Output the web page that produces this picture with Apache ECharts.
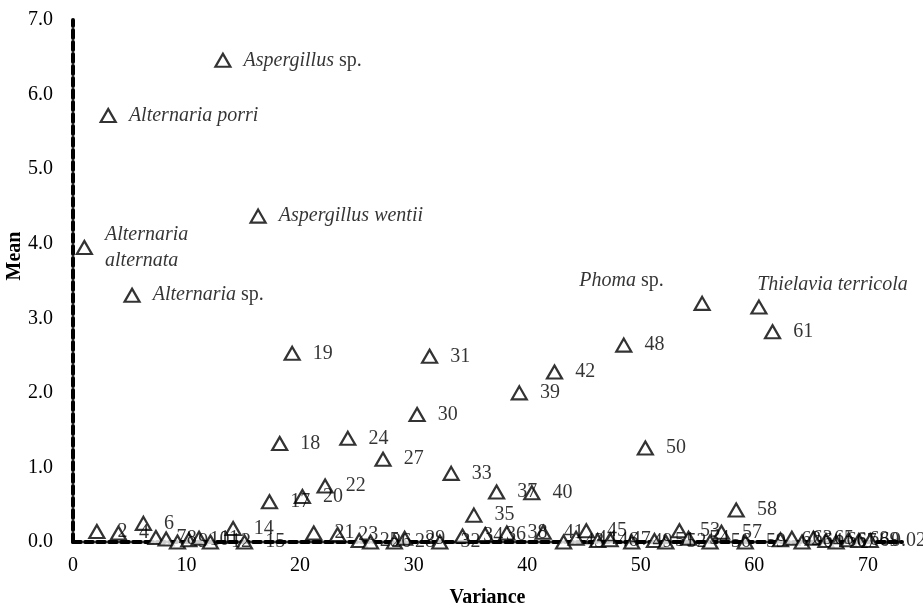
<!DOCTYPE html>
<html>
<head>
<meta charset="utf-8">
<script src="https://cdn.jsdelivr.net/npm/echarts@6/dist/echarts.min.js"></script>
<style>
  html, body { margin: 0; padding: 0; background: #fff; }
  #chart { width: 923px; height: 610px; }
</style>
</head>
<body>
<div id="chart"></div>
<script>
// Isolates: variance (x) and mean (y), with the text shown beside each point
const variance = [
  1.0, 2.1, 3.1, 4.0, 5.2, 6.2, 7.3, 8.2, 9.2, 10.2,
  11.1, 12.1, 13.2, 14.1, 15.1, 16.3, 17.3, 18.2, 19.3, 20.2,
  21.2, 22.2, 23.3, 24.2, 25.2, 26.2, 27.3, 28.3, 29.2, 30.3,
  31.4, 32.3, 33.3, 34.3, 35.3, 36.3, 37.3, 38.2, 39.3, 40.4,
  41.4, 42.4, 43.2, 44.3, 45.2, 46.2, 47.3, 48.5, 49.2, 50.4,
  51.2, 52.2, 53.4, 54.2, 55.4, 56.1, 57.1, 58.4, 59.2, 60.4,
  61.6, 62.3, 63.3, 64.2, 65.2, 66.3, 67.2, 68.3, 69.2, 70.2
];
const mean = [
  3.95, 0.14, 5.72, 0.12, 3.31, 0.25, 0.06, 0.04, 0.00, 0.03,
  0.05, 0.00, 6.46, 0.18, 0.00, 4.37, 0.54, 1.32, 2.53, 0.61,
  0.12, 0.75, 0.10, 1.39, 0.02, 0.00, 1.11, 0.00, 0.05, 1.71,
  2.49, 0.00, 0.92, 0.08, 0.36, 0.10, 0.67, 0.12, 2.00, 0.66,
  0.13, 2.28, 0.00, 0.05, 0.15, 0.02, 0.03, 2.64, 0.00, 1.26,
  0.02, 0.00, 0.15, 0.05, 3.20, 0.00, 0.13, 0.43, 0.00, 3.15,
  2.82, 0.03, 0.05, 0.00, 0.05, 0.02, 0.00, 0.03, 0.02, 0.02
];
const pointLabels = [
  'Alternaria alternata', '2', 'Alternaria porri', '4', 'Alternaria sp.', '6', '7', '8', '9', '10',
  '11', '12', 'Aspergillus sp.', '14', '15', 'Aspergillus wentii', '17', '18', '19', '20',
  '21', '22', '23', '24', '25', '26', '27', '28', '29', '30',
  '31', '32', '33', '34', '35', '36', '37', '38', '39', '40',
  '41', '42', '43', '44', '45', '46', '47', '48', '49', '50',
  '51', '52', '53', '54', 'Phoma sp.', '56', '57', '58', '59', 'Thielavia terricola',
  '61', '62', '63', '64', '65', '66', '67', '68', '69', '0.02'
];

// Axis ranges and tick steps
const xRange = [0, 73];
const xStep = 10;
const yRange = [0, 7];
const yStep = 1;

const SERIF = '"Liberation Serif", "Times New Roman", serif';

// Species names are set in italics, "sp." stays upright
function labelText(t) {
  if (/^[\d.]+$/.test(t)) return t;
  const words = t.split(' ');
  if (t === 'Alternaria alternata') return words.map(w => '{i|' + w + '}').join('\n');
  return words.map(w => (w === 'sp.' ? w : '{i|' + w + '}')).join(' ');
}

// Label placement overrides for the two names written above their points
const labelOverrides = {
  'Phoma sp.': { position: [-72, -15], align: 'center', verticalAlign: 'middle' },
  'Thielavia terricola': { position: [7, -15], align: 'left', verticalAlign: 'middle' },
  'Alternaria alternata': { lineHeight: 26 }
};

const points = variance.map((x, i) => {
  const item = { value: [x, mean[i]], name: pointLabels[i] };
  const o = labelOverrides[pointLabels[i]];
  if (o) item.label = Object.assign({}, o);
  return item;
});

const dashed = { color: '#000', width: 4, type: [8, 4] };

const chart = echarts.init(document.getElementById('chart'), null, { renderer: 'canvas' });
chart.setOption({
  animation: false,
  backgroundColor: '#fff',
  grid: { left: 73, right: 21, top: 20, bottom: 68, containLabel: false, outerBoundsMode: 'none' },
  xAxis: {
    type: 'value',
    min: xRange[0], max: xRange[1], interval: xStep,
    name: 'Variance',
    nameLocation: 'middle',
    nameGap: 46,
    nameMoveOverlap: false,
    nameTextStyle: { fontFamily: SERIF, fontWeight: 'bold', fontSize: 20, color: '#000' },
    axisLine: { show: true, onZero: false, lineStyle: dashed },
    axisTick: { show: false },
    splitLine: { show: false },
    axisLabel: {
      showMaxLabel: false,
      margin: 14,
      fontFamily: SERIF, fontSize: 20, color: '#000',
      formatter: v => String(v)
    }
  },
  yAxis: {
    type: 'value',
    min: yRange[0], max: yRange[1], interval: yStep,
    name: 'Mean',
    nameLocation: 'middle',
    nameGap: 48,
    nameMoveOverlap: false,
    nameTextStyle: { fontFamily: SERIF, fontWeight: 'bold', fontSize: 20, color: '#000', padding: [0, 0, 0, 50] },
    axisLine: { show: true, onZero: false, lineStyle: dashed },
    axisTick: { show: false },
    splitLine: { show: false },
    axisLabel: {
      margin: 20,
      fontFamily: SERIF, fontSize: 20, color: '#000',
      formatter: v => v.toFixed(1)
    }
  },
  series: [{
    type: 'scatter',
    data: points,
    symbol: 'triangle',
    symbolSize: [15, 13],
    itemStyle: { color: '#fff', borderColor: '#000', borderWidth: 2.2 },
    label: {
      show: true,
      position: 'right',
      distance: 12,
      color: '#000',
      fontFamily: SERIF,
      fontSize: 20,
      formatter: p => labelText(p.name),
      rich: {
        i: { fontFamily: SERIF, fontStyle: 'italic', fontSize: 20, color: '#000' }
      }
    },
    emphasis: { disabled: true }
  }]
});
</script>
</body>
</html>
